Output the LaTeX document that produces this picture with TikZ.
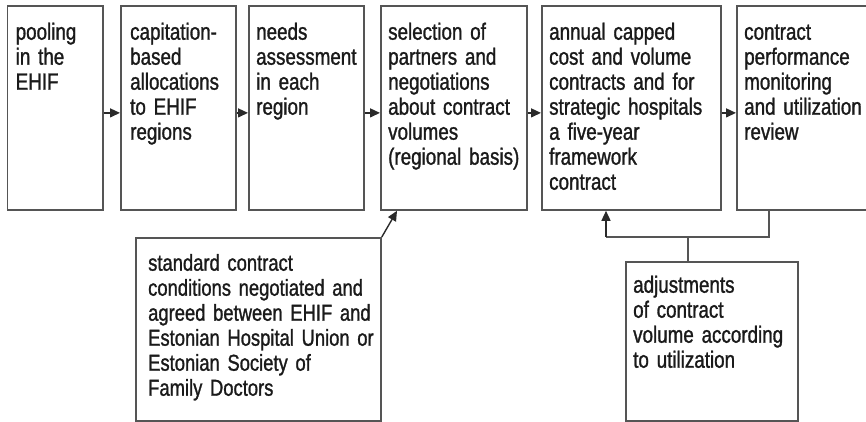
\documentclass[tikz,border=0pt]{standalone}
\usepackage{fontspec}
\setmainfont[FakeStretch=0.80,FakeBold=1.2]{Liberation Sans}
\usetikzlibrary{arrows.meta}
\definecolor{ln}{HTML}{555555}
\definecolor{ar}{HTML}{2A2A2A}
\definecolor{tx}{HTML}{1A1A1A}
\begin{document}
\begin{tikzpicture}[x=1pt,y=-1pt,
  box/.style={draw=ln, line width=1.8pt, inner sep=0pt, anchor=north west},
  txt/.style={anchor=north west, inner sep=0pt, text width=260pt, align=left, text=tx,
    font=\fontsize{23.5}{25}\selectfont},
  conn/.style={draw=ln, line width=1.6pt},
  arr/.style={draw=ar, line width=1.4pt, -{Triangle[length=10pt,width=9pt]}}]
\useasboundingbox (0,0) rectangle (866,422);
\clip (0,0) rectangle (866,422);
% top row
\node[box, minimum width=95.5pt, minimum height=204pt] (b1) at (6.5,5) {};
\node[box, minimum width=115pt, minimum height=204pt] (b2) at (120,5) {};
\node[box, minimum width=115pt, minimum height=204pt] (b3) at (248,5) {};
\node[box, minimum width=146pt, minimum height=204pt] (b4) at (380,5) {};
\node[box, minimum width=179pt, minimum height=204pt] (b5) at (541,5) {};
\node[box, minimum width=150pt, minimum height=204pt] (b6) at (736,5) {};
% bottom boxes
\node[box, minimum width=245pt, minimum height=183pt] (std) at (135,237) {};
\node[box, minimum width=172pt, minimum height=159pt] (adj) at (625,261) {};
% texts
\node[txt] (t1) at ([shift={(9pt,-17pt)}]b1.north west) {\strut pooling\\in the\\EHIF};
\node[txt] (t2) at ([shift={(10pt,-17pt)}]b2.north west) {\strut capitation-\\based\\allocations\\to EHIF\\regions};
\node[txt] (t3) at ([shift={(8pt,-17pt)}]b3.north west) {\strut needs\\assessment\\in each\\region};
\node[txt] (t4) at ([shift={(8pt,-17pt)}]b4.north west) {\strut selection of\\partners and\\negotiations\\about contract\\volumes\\(regional basis)};
\node[txt] (t5) at ([shift={(8pt,-17pt)}]b5.north west) {\strut annual capped\\cost and volume\\contracts and for\\strategic hospitals\\a five-year\\framework\\contract};
\node[txt] (t6) at ([shift={(8pt,-17pt)}]b6.north west) {\strut contract\\performance\\monitoring\\and utilization\\review};
\node[txt, font=\fontsize{23}{25}\selectfont] (t7) at ([shift={(13pt,-16pt)}]std.north west) {\strut standard contract\\conditions negotiated and\\agreed between EHIF and\\Estonian Hospital Union or\\Estonian Society of\\Family Doctors};
\node[txt] (t8) at ([shift={(8pt,-14pt)}]adj.north west) {\strut adjustments\\of contract\\volume according\\to utilization};
% flow arrows
\draw[arr] ([yshift=-5pt]b1.east) -- ([yshift=-5pt]b2.west);
\draw[arr] ([yshift=-5pt]b2.east) -- ([yshift=-5pt]b3.west);
\draw[arr] ([yshift=-5pt]b3.east) -- ([yshift=-5pt]b4.west);
\draw[arr] ([yshift=-5pt]b4.east) -- ([yshift=-5pt]b5.west);
\draw[arr] ([yshift=-5pt]b5.east) -- ([yshift=-5pt]b6.west);
% standard conditions arrow
\coordinate (p4) at ([xshift=17pt]b4.south west);
\draw[arr] (std.north east) -- (p4);
% feedback loop
\coordinate (j) at ([xshift=-24pt,yshift=24pt]adj.north);
\coordinate (p6) at ([xshift=33pt]b6.south west);
\coordinate (p5) at ([xshift=65pt]b5.south west);
\draw[conn] ([xshift=-24pt]adj.north) -- (j);
\draw[conn] (p6) -- (p6 |- j) -- (p5 |- j);
\draw[arr] (p5 |- j) -- (p5);
\end{tikzpicture}
\end{document}
